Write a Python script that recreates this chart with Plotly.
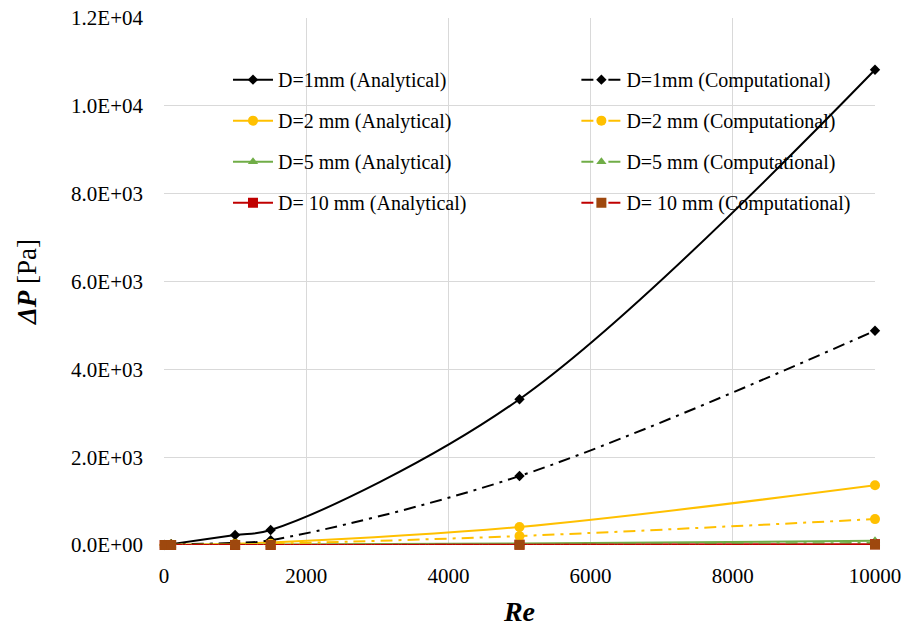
import plotly.graph_objects as go

re_vals = [10, 100, 1000, 1500, 5000, 10000]

d1_analytical = [2, 20, 228, 340, 3320, 10820]
d1_computational = [1, 10, 50, 110, 1570, 4880]
d2_analytical = [0.5, 5, 30, 55, 410, 1360]
d2_computational = [0.3, 3, 15, 28, 205, 590]
d5_analytical = [0.1, 1, 5, 9, 35, 95]
d5_computational = [0.05, 0.5, 2.5, 5, 18, 45]
d10_analytical = [0.02, 0.2, 1, 2, 8, 18]
d10_computational = [0.01, 0.1, 0.6, 1, 4, 10]

y_tickvals = [0, 2000, 4000, 6000, 8000, 10000, 12000]
y_ticktext = ["0.0E+00", "2.0E+03", "4.0E+03", "6.0E+03", "8.0E+03", "1.0E+04", "1.2E+04"]
x_tickvals = [0, 2000, 4000, 6000, 8000, 10000]
x_ticktext = ["0", "2000", "4000", "6000", "8000", "10000"]

series = [
    ("D=1mm (Analytical)", d1_analytical, "#000000", "#000000", "diamond", "solid", "legend"),
    ("D=2 mm (Analytical)", d2_analytical, "#FFC000", "#FFC000", "circle", "solid", "legend"),
    ("D=5 mm (Analytical)", d5_analytical, "#70AD47", "#70AD47", "triangle-up", "solid", "legend"),
    ("D= 10 mm (Analytical)", d10_analytical, "#C00000", "#C00000", "square", "solid", "legend"),
    ("D=1mm (Computational)", d1_computational, "#000000", "#000000", "diamond", "12px,6px,3px,6px", "legend2"),
    ("D=2 mm (Computational)", d2_computational, "#FFC000", "#FFC000", "circle", "12px,6px,3px,6px", "legend2"),
    ("D=5 mm (Computational)", d5_computational, "#70AD47", "#70AD47", "triangle-up", "12px,6px,3px,6px", "legend2"),
    ("D= 10 mm (Computational)", d10_computational, "#C00000", "#9E480E", "square", "12px,6px,3px,6px", "legend2"),
]

sizes = {"diamond": 8, "circle": 10, "triangle-up": 9, "square": 10}

fig = go.Figure()
for name, ys, lc, mc, sym, dash, leg in series:
    fig.add_trace(go.Scatter(
        x=re_vals, y=ys, name=name, mode="lines+markers",
        line=dict(color=lc, width=2, dash=dash, shape="spline"),
        marker=dict(color=mc, symbol=sym, size=sizes[sym]),
        cliponaxis=False, legend=leg, legendgroup=name,
    ))

font_family = "Liberation Serif, Times New Roman, serif"
legend_common = dict(
    font=dict(family=font_family, size=20, color="#000000"),
    bgcolor="rgba(0,0,0,0)", traceorder="grouped", tracegroupgap=12,
    xanchor="left", yanchor="top", itemwidth=40,
)
fig.update_layout(
    width=905, height=631,
    margin=dict(l=164, r=30, t=18, b=86),
    paper_bgcolor="white", plot_bgcolor="white",
    font=dict(family=font_family, size=19, color="#000000"),
    legend=dict(x=0.09, y=0.92, **legend_common),
    legend2=dict(x=0.58, y=0.92, **legend_common),
    xaxis=dict(
        range=[0, 10000], tickvals=x_tickvals, ticktext=x_ticktext, showgrid=True, gridcolor="#D9D9D9",
        zeroline=False, showline=False, ticks="", ticklabelstandoff=16, automargin=False,
        tickfont=dict(family=font_family, size=21),
        title=dict(text="<b><i>Re</i></b>", font=dict(family=font_family, size=28), standoff=14),
    ),
    yaxis=dict(
        range=[0, 12000], tickvals=y_tickvals, ticktext=y_ticktext, showgrid=True, automargin=False,
        gridcolor="#D9D9D9", zeroline=False, showline=False, ticks="", ticklabelstandoff=20,
        tickfont=dict(family=font_family, size=21),
        title=dict(text="<b><i>ΔP</i></b> [Pa]", font=dict(family=font_family, size=27), standoff=26),
    ),
)

fig.write_html("out.html")
